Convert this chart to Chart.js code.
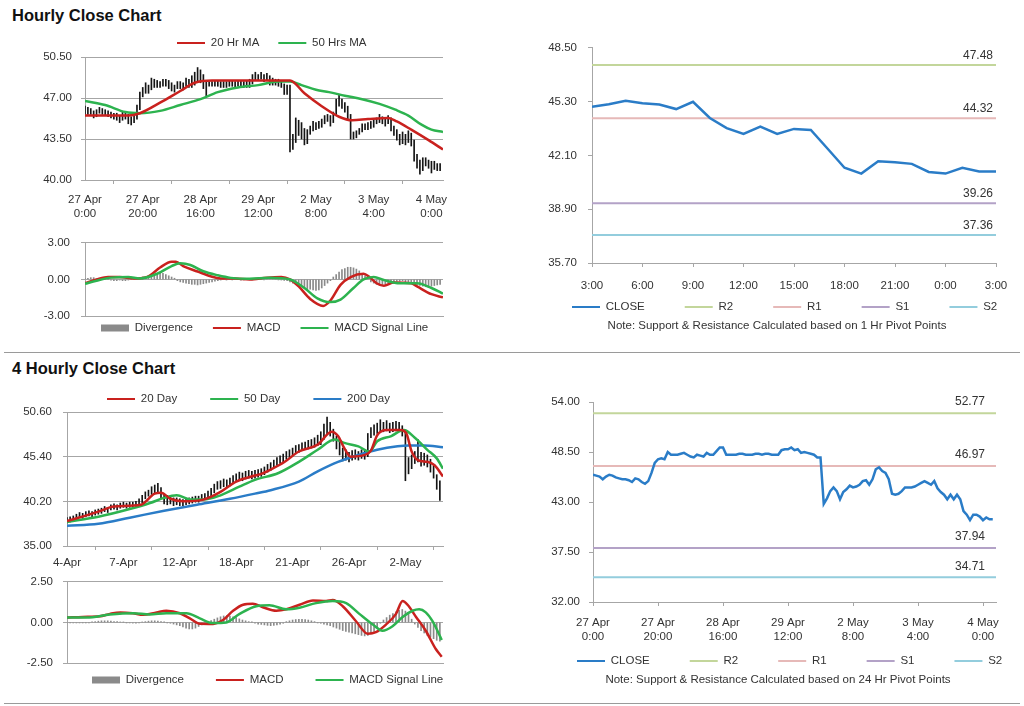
<!DOCTYPE html>
<html>
<head>
<meta charset="utf-8">
<title>Hourly and 4 Hourly Close Charts</title>
<script src="https://cdn.jsdelivr.net/npm/chart.js@4.4.1/dist/chart.umd.min.js"></script>
<style>
  body { margin: 0; background: #fff; font-family: 'Liberation Sans', Arial, sans-serif; }
  #page { position: relative; width: 1024px; height: 706px; overflow: hidden; }
  .panel { position: absolute; }
  .heading { position: absolute; left: 12px; font-size: 16.5px; font-weight: bold; color: #111; }
  .note { position: absolute; width: 520px; text-align: center; font-size: 11.5px; color: #333; }
  .rule { position: absolute; left: 4px; width: 1016px; height: 1px; background: #9a9a9a; }
</style>
</head>
<body>
<div id="page">
  <div class="heading" style="top:6px">Hourly Close Chart</div>
  <div class="panel" style="left:0;top:25px;width:480px;height:200px"><canvas id="hourPrice"></canvas></div>
  <div class="panel" style="left:0;top:225px;width:480px;height:115px"><canvas id="hourMacd"></canvas></div>
  <div class="panel" style="left:520px;top:30px;width:504px;height:310px"><canvas id="hourPivot"></canvas></div>
  <div class="note" style="left:517px;top:319px">Note: Support &amp; Resistance Calculated based on 1 Hr Pivot Points</div>
  <div class="rule" style="top:352px"></div>

  <div class="heading" style="top:359px">4 Hourly Close Chart</div>
  <div class="panel" style="left:0;top:380px;width:480px;height:195px"><canvas id="dayPrice"></canvas></div>
  <div class="panel" style="left:0;top:565px;width:480px;height:130px"><canvas id="dayMacd"></canvas></div>
  <div class="panel" style="left:520px;top:385px;width:504px;height:310px"><canvas id="dayPivot"></canvas></div>
  <div class="note" style="left:518px;top:673px">Note: Support &amp; Resistance Calculated based on 24 Hr Pivot Points</div>
  <div class="rule" style="top:703px"></div>
</div>

<script>
// ---- hourly bars, 27 Apr 0:00 -> 4 May ----
const hourTicks = [['27 Apr', '0:00'], ['27 Apr', '20:00'], ['28 Apr', '16:00'], ['29 Apr', '12:00'],
                   ['2 May', '8:00'], ['3 May', '4:00'], ['4 May', '0:00']];

const hourClose = [
  46.0, 45.9, 45.8, 45.5, 45.8, 46.0, 45.9, 45.7, 45.6, 45.5,
  45.5, 45.4, 45.2, 45.6, 45.5, 45.2, 45.0, 45.3, 46.2, 47.3,
  47.7, 47.8, 47.7, 48.5, 48.2, 48.2, 48.2, 48.3, 48.4, 48.2,
  48.0, 47.9, 48.2, 48.1, 48.0, 48.4, 48.2, 48.2, 48.6, 49.0,
  49.0, 48.2, 48.2, 48.2, 48.2, 48.3, 48.3, 48.2, 48.2, 48.2,
  48.3, 48.3, 48.2, 48.3, 48.3, 48.2, 48.2, 48.2, 48.7, 48.8,
  48.8, 49.0, 48.7, 48.8, 48.4, 48.5, 48.4, 48.3, 48.2, 47.9,
  47.9, 42.8, 43.4, 44.2, 44.6, 44.2, 43.3, 44.1, 44.4, 44.8,
  44.6, 44.7, 44.9, 45.3, 45.4, 44.9, 45.5, 46.6, 46.8, 46.4,
  46.2, 45.5, 43.9, 43.8, 43.9, 44.2, 44.6, 44.6, 44.6, 44.7,
  44.9, 45.1, 45.3, 45.1, 44.9, 45.3, 44.5, 44.1, 43.8, 43.3,
  43.8, 43.3, 43.8, 43.3, 42.0, 41.6, 41.0, 41.6, 41.6, 41.4,
  41.0, 41.3, 41.1, 41.1
];
const hourLow = [
  45.6, 45.6, 45.6, 45.3, 45.4, 45.7, 45.6, 45.5, 45.4, 45.3,
  45.2, 45.1, 44.9, 45.1, 45.2, 44.8, 44.7, 44.9, 45.2, 46.0,
  47.1, 47.4, 47.4, 47.7, 47.9, 47.9, 47.9, 48.0, 48.0, 47.8,
  47.6, 47.5, 47.8, 47.8, 47.7, 48.0, 47.9, 47.9, 48.1, 48.4,
  48.3, 47.8, 47.1, 48.0, 48.0, 48.0, 48.0, 47.9, 47.9, 47.9,
  48.0, 48.0, 47.9, 48.0, 48.0, 47.9, 47.9, 47.9, 48.2, 48.5,
  48.5, 48.6, 48.4, 48.5, 48.1, 48.1, 48.1, 48.0, 47.9, 47.3,
  47.3, 42.4, 42.6, 43.2, 43.8, 43.5, 43.0, 43.1, 43.9, 44.2,
  44.3, 44.4, 44.5, 44.8, 45.0, 44.6, 44.9, 45.5, 46.3, 46.1,
  45.8, 45.2, 43.5, 43.5, 43.6, 43.9, 44.1, 44.3, 44.3, 44.4,
  44.5, 44.8, 44.9, 44.8, 44.6, 44.8, 44.2, 43.8, 43.4, 43.0,
  43.1, 43.0, 43.2, 42.9, 41.6, 41.0, 40.5, 40.8, 41.2, 41.0,
  40.6, 40.9, 40.8, 40.8
];
const hourHigh = [
  46.3, 46.2, 46.1, 45.9, 46.0, 46.2, 46.1, 46.0, 45.9, 45.8,
  45.7, 45.7, 45.5, 45.8, 45.8, 45.6, 45.4, 45.5, 46.4, 47.5,
  47.9, 48.3, 48.1, 48.7, 48.6, 48.5, 48.4, 48.6, 48.6, 48.5,
  48.3, 48.1, 48.4, 48.4, 48.3, 48.7, 48.6, 48.9, 49.2, 49.6,
  49.4, 49.0, 48.4, 48.4, 48.4, 48.5, 48.5, 48.4, 48.4, 48.4,
  48.5, 48.5, 48.4, 48.5, 48.5, 48.4, 48.5, 48.6, 49.0, 49.2,
  49.0, 49.2, 49.0, 49.1, 48.9, 48.7, 48.6, 48.6, 48.5, 48.2,
  48.1, 48.1, 43.9, 45.3, 45.1, 44.9, 44.4, 44.3, 44.6, 45.0,
  44.9, 45.0, 45.2, 45.5, 45.6, 45.5, 45.8, 46.9, 47.3, 46.9,
  46.6, 46.3, 45.6, 44.1, 44.2, 44.4, 44.8, 44.8, 44.9, 45.0,
  45.1, 45.3, 45.6, 45.4, 45.3, 45.5, 45.3, 44.6, 44.3, 43.9,
  44.1, 43.9, 44.2, 44.0, 43.4, 42.2, 41.7, 41.9, 41.9, 41.7,
  41.6, 41.6, 41.4, 41.4
];

const ma20HourAt = [0, 15, 19, 26, 33, 38, 44, 71, 76, 82, 88, 92.5, 98, 105, 108, 113, 119, 124];
const ma20Hour   = [45.5, 45.5, 45.7, 46.6, 47.6, 48.3, 48.5, 48.5, 47.4, 46.3, 45.4, 45.1, 45.2, 45.3, 45.0, 44.3, 43.4, 42.6];
const ma50HourAt = [0, 7, 14, 19, 26, 33, 40, 46, 53, 60, 67, 71, 75, 80, 84.5, 90, 96, 102, 107.5, 112, 116.7, 120, 124];
const ma50Hour   = [46.75, 46.4, 45.8, 45.7, 45.9, 46.4, 46.9, 47.5, 47.9, 48.1, 48.4, 48.4, 48.1, 47.7, 47.5, 47.2, 46.9, 46.5, 46.0, 45.5, 44.7, 44.3, 44.1];

const macdHourAt = [0, 4, 8, 12, 17, 22, 26, 30, 31.5, 34, 39, 43.5, 47, 52, 57, 63, 68, 71, 74, 78,
                    82.5, 85, 88.5, 92, 96.5, 98.5, 101, 103.5, 107, 113, 115, 120, 124];
const macdHour   = [-0.3, 0, 0.2, 0.2, 0.08, 0.26, 0.98, 1.45, 1.45, 1.1, 0.65, 0.26, 0.08, 0.08, 0, 0.15, 0.2, 0, -0.57, -1.6,
                    -2.17, -1.73, -0.44, 0.2, 0.47, 0.2, -0.31, -0.52, -0.26, -0.31, -0.57, -1.21, -1.47];
const signalHourAt = [0, 4, 9, 15, 19, 25, 30, 33, 36.5, 41, 46, 50.5, 57, 64, 71, 76, 80.5, 85, 88.5, 93,
                      96.5, 100, 103.5, 109, 115, 120, 124];
const signalHour   = [-0.36, -0.1, 0.15, 0.2, 0.08, 0.47, 1.1, 1.32, 1.19, 0.67, 0.34, 0.13, 0.05, 0.13, 0, -0.7, -1.55, -1.86, -1.65, -0.7,
                      0, 0.2, -0.05, -0.31, -0.31, -0.7, -1.16];
const divHour = [
  0.1, 0.1, 0.15, 0.15, 0.05, 0.05, 0.05, 0.02, 0, -0.05,
  -0.1, -0.1, -0.05, -0.1, -0.1, -0.05, 0, 0.05, 0.1, 0.15,
  0.2, 0.25, 0.3, 0.35, 0.4, 0.5, 0.55, 0.5, 0.4, 0.3,
  0.2, 0.1, -0.1, -0.2, -0.25, -0.3, -0.35, -0.4, -0.4, -0.45,
  -0.4, -0.35, -0.3, -0.25, -0.2, -0.15, -0.1, -0.05, 0.05, -0.05,
  0.03, -0.03, 0.05, 0.03, -0.05, -0.03, 0.03, 0.05, -0.03, 0.03,
  0.05, 0.03, -0.03, 0.05, 0.08, 0.05, 0.03, -0.03, -0.05, -0.08,
  -0.1, -0.2, -0.3, -0.4, -0.5, -0.6, -0.7, -0.75, -0.8, -0.85,
  -0.9, -0.85, -0.7, -0.5, -0.3, -0.1, 0.2, 0.4, 0.6, 0.8,
  0.9, 1.0, 1.0, 0.95, 0.85, 0.7, 0.5, 0.3, 0.1, -0.2,
  -0.3, -0.4, -0.45, -0.4, -0.35, -0.3, -0.25, -0.2, -0.15, -0.15,
  -0.1, -0.2, -0.3, -0.35, -0.4, -0.45, -0.5, -0.55, -0.6, -0.6,
  -0.55, -0.5, -0.45, -0.4
];

// ---- last day, hourly close 3:00 -> 3:00 ----
const clockTicks = ['3:00', '6:00', '9:00', '12:00', '15:00', '18:00', '21:00', '0:00', '3:00'];
const closeLastDay = [44.99, 45.15, 45.35, 45.21, 45.13, 44.86, 45.29, 44.33, 43.73, 43.38, 43.81, 43.38, 43.68,
                      43.62, 42.5, 41.37, 41.02, 41.75, 41.7, 41.6, 41.12, 41.02, 41.37, 41.15, 41.15];

const pivotNames = ['R2', 'R1', 'S1', 'S2'];
const pivots1Hr  = [47.48, 44.32, 39.26, 37.36];
const pivots24Hr = [52.77, 46.97, 37.94, 34.71];

// ---- 4 hourly bars, 4 Apr -> 4 May ----
const dayTicks = ['4-Apr', '7-Apr', '12-Apr', '18-Apr', '21-Apr', '26-Apr', '2-May'];
const dayLow = [
  37.7, 37.8, 38.0, 38.1, 38.3, 38.2, 38.4, 38.5, 38.4, 38.6,
  38.7, 38.8, 39.0, 38.9, 39.2, 39.3, 39.2, 39.4, 39.5, 39.4,
  39.5, 39.5, 39.6, 39.7, 40.0, 40.5, 40.8, 41.0, 41.2, 41.3,
  40.5, 39.9, 39.8, 39.9, 39.7, 39.8, 39.7, 39.7, 39.8, 39.9,
  40.0, 40.1, 40.1, 40.3, 40.4, 40.6, 40.8, 41.2, 41.6, 41.7,
  41.9, 41.8, 42.0, 42.3, 42.5, 42.7, 42.6, 42.8, 42.9, 42.8,
  42.9, 43.0, 43.1, 43.3, 43.6, 43.8, 44.1, 44.4, 44.6, 44.8,
  45.1, 45.3, 45.5, 45.8, 45.9, 46.1, 46.2, 46.3, 46.4, 46.5,
  46.7, 46.8, 47.4, 48.0, 47.8, 47.2, 46.3, 45.6, 44.9, 45.0,
  44.8, 45.0, 45.1, 45.0, 45.2, 45.1, 45.4, 47.6, 47.9, 48.1,
  48.3, 48.3, 48.4, 48.2, 48.3, 48.4, 48.3, 47.8, 42.6, 43.4,
  44.0, 44.6, 44.8, 44.3, 44.4, 44.2, 43.6, 42.9, 41.6, 40.3
];
const dayHigh = [
  38.3, 38.4, 38.5, 38.7, 38.9, 38.8, 39.0, 39.1, 39.0, 39.2,
  39.3, 39.4, 39.6, 39.5, 39.8, 39.9, 39.8, 40.0, 40.1, 40.0,
  40.1, 40.1, 40.2, 40.5, 40.9, 41.3, 41.5, 41.9, 42.1, 42.3,
  41.8, 41.0, 40.9, 40.8, 40.6, 40.6, 40.5, 40.4, 40.5, 40.6,
  40.7, 40.8, 40.8, 41.0, 41.1, 41.4, 41.7, 42.2, 42.5, 42.6,
  42.8, 42.7, 42.9, 43.2, 43.4, 43.6, 43.5, 43.7, 43.8, 43.7,
  43.8, 43.9, 44.0, 44.2, 44.5, 44.7, 45.0, 45.3, 45.5, 45.7,
  46.0, 46.2, 46.4, 46.7, 46.8, 47.0, 47.1, 47.3, 47.4, 47.6,
  47.9, 48.3, 49.2, 50.0, 49.4, 48.6, 47.8, 47.2, 46.4, 46.2,
  45.9, 46.1, 46.2, 46.0, 46.2, 46.1, 48.1, 48.8, 49.1, 49.3,
  49.7, 49.4, 49.6, 49.3, 49.4, 49.5, 49.4, 49.0, 48.5, 45.3,
  45.6, 46.0, 47.4, 45.9, 45.8, 45.6, 45.1, 44.3, 43.3, 42.6
];

const ma20DayAt = [0, 10, 15, 23.5, 28, 30, 33, 37, 43.5, 49, 54, 60, 62, 65, 69.5, 74, 80, 84.5, 86.5, 88.5,
                   90.5, 95, 97, 99, 102, 106.5, 108.3, 110, 112, 115, 117.3, 120];
const ma20Day   = [37.9, 39.0, 39.6, 39.8, 41.1, 41.2, 40.5, 40.2, 40.4, 41.3, 42.5, 43.2, 43.4, 43.9, 44.8, 46.0, 46.8, 48.3, 47.8, 46.4,
                   45.4, 45.6, 46.1, 47.9, 48.5, 48.5, 48.1, 46.0, 45.0, 44.8, 44.4, 43.1];
const ma50DayAt = [0, 10, 20, 26.5, 31, 35, 39.5, 43.5, 49, 55, 60, 67.5, 74, 80, 85.5, 88.5, 93, 96.5, 99, 103.5,
                   107.5, 111, 115, 118, 120];
const ma50Day   = [37.8, 38.4, 39.3, 40.0, 40.6, 40.9, 40.4, 40.4, 40.9, 41.9, 42.7, 43.5, 44.8, 46.2, 47.4, 47.0, 46.6, 46.0, 47.2, 47.8,
                   48.5, 47.6, 46.2, 45.2, 44.0];
const ma200DayAt = [0, 10, 20, 31, 41.5, 52, 60, 65, 74, 80, 86.5, 93, 99, 105.5, 109, 114, 120];
const ma200Day   = [37.35, 37.6, 38.3, 39.1, 39.8, 40.5, 41.1, 41.5, 42.5, 43.7, 44.8, 45.6, 46.2, 46.6, 46.7, 46.7, 46.5];

const macdDayAt = [0, 5, 10.5, 13.7, 17, 21, 24.3, 28.6, 31.7, 36, 39.2, 42.4, 46.6, 49.8, 53, 56.2, 59.3, 62.5, 66.8, 70,
                   74.2, 78.5, 82.7, 84.8, 88, 92.3, 96, 98.6, 101.8, 105, 107.1, 108.7, 111.4, 114.5, 117.7, 119.6];
const macdDay   = [0.3, 0.34, 0.38, 0.53, 0.62, 0.57, 0.47, 0.62, 0.72, 0.57, 0.25, -0.08, -0.09, 0.15, 0.72, 1.09, 1.15, 0.94, 0.72, 0.81,
                   1.09, 1.36, 1.32, 1.38, 1.0, 0.06, -0.7, -0.6, -0.13, 0.53, 1.32, 1.09, 0.34, -0.51, -1.64, -2.11];
const signalDayAt = [0, 6.3, 13.7, 21.1, 26.4, 31.7, 38.1, 42.4, 46.6, 50.8, 55.1, 60.4, 64.6, 70, 74.2, 79.5, 84.8, 89.1, 93.3, 97.6,
                     100.7, 103.9, 107.1, 110.3, 112.4, 114.5, 116.7, 119.6];
const signalDay   = [0.3, 0.3, 0.49, 0.57, 0.49, 0.57, 0.57, 0.25, -0.04, 0, 0.53, 1.0, 1.06, 0.81, 0.91, 1.19, 1.32, 1.19, 0.53, -0.13,
                     -0.51, -0.23, 0.34, 0.72, 0.81, 0.62, 0.06, -1.08];
const divDay = [
  -0.03, -0.03, -0.03, -0.03, -0.03, -0.02, -0.02, -0.02, 0.03, 0.05,
  0.08, 0.1, 0.1, 0.1, 0.08, 0.06, 0.05, 0.03, 0.02, -0.02,
  -0.03, -0.04, -0.05, -0.03, 0.03, 0.05, 0.08, 0.1, 0.1, 0.08,
  0.05, 0.02, -0.02, -0.05, -0.1, -0.15, -0.2, -0.28, -0.35, -0.4,
  -0.4, -0.35, -0.25, -0.15, -0.05, 0.05, 0.12, 0.2, 0.28, 0.35,
  0.4, 0.42, 0.4, 0.35, 0.3, 0.22, 0.15, 0.1, 0.05, 0.02,
  -0.05, -0.1, -0.12, -0.15, -0.18, -0.2, -0.18, -0.15, -0.1, -0.05,
  0.05, 0.1, 0.15, 0.18, 0.2, 0.2, 0.18, 0.15, 0.1, 0.05,
  -0.02, -0.05, -0.1, -0.15, -0.2, -0.28, -0.35, -0.42, -0.5, -0.55,
  -0.6, -0.65, -0.7, -0.75, -0.8, -0.83, -0.8, -0.7, -0.55, -0.3,
  -0.05, 0.15, 0.3, 0.45, 0.55, 0.65, 0.75, 0.8, 0.7, 0.5,
  0.2, -0.1, -0.3, -0.5, -0.65, -0.8, -0.9, -1.0, -1.1, -1.15
];

// ---- styling ----
Chart.defaults.font.family = "'Liberation Sans', Arial, sans-serif";
Chart.defaults.font.size = 11.5;
Chart.defaults.color = '#333';
Chart.defaults.animation = false;
Chart.defaults.plugins.tooltip.enabled = false;

const GRID = '#a6a6a6';
const RED = '#c9211e';
const GREEN = '#2db34f';
const BLUE = '#2a7cc7';
const BAR_GREY = '#8a8a8a';
const PIVOT_COLORS = ['#c3d69b', '#e6b9b8', '#b3a2c7', '#93cddd'];
const LEGEND_FONT = 11.5;

function pts(xs, ys) { return xs.map((x, k) => ({ x: x, y: ys[k] })); }
function series(vals) { return vals.map((v, i) => ({ x: i, y: v })); }
function ranges(lo, hi) { return lo.map((v, i) => ({ x: i, y: [v, hi[i]] })); }

// puts the legend row where the original had it, without it taking layout room
const legendSpot = {
  id: 'legendSpot',
  afterLayout(chart, args, opts) {
    const lg = chart.legend;
    if (!lg || opts.x === undefined) return;
    const pad = lg.options.labels.padding;
    lg.left = opts.x - pad;
    lg.right = lg.left + 1000;
    lg.top = opts.y - pad - LEGEND_FONT / 2;
    lg.bottom = lg.top + pad + LEGEND_FONT + 10;
    lg.width = lg.right - lg.left;
    lg.height = lg.bottom - lg.top;
  }
};

// value labels above the support / resistance lines
const pivotTags = {
  id: 'pivotTags',
  afterDatasetsDraw(chart, args, opts) {
    const { ctx, chartArea, scales } = chart;
    ctx.save();
    ctx.font = "12px 'Liberation Sans', Arial, sans-serif";
    ctx.fillStyle = '#333';
    ctx.textAlign = 'right';
    ctx.textBaseline = 'middle';
    chart.data.datasets.forEach(ds => {
      if (!ds.pivot) return;
      const v = ds.data[0].y;
      ctx.fillText(v.toFixed(2), chartArea.right - opts.inset, scales.y.getPixelForValue(v) - opts.lift);
    });
    ctx.restore();
  }
};

function xAxis(max, step, labels, height, pad) {
  return {
    type: 'linear', min: 0, max: max, offset: false,
    afterFit: s => { s.height = height; },
    grid: { display: !!labels, drawOnChartArea: false, tickLength: 4, color: GRID },
    border: { color: GRID },
    ticks: {
      display: !!labels, stepSize: step, includeBounds: false, autoSkip: false, maxRotation: 0, padding: pad || 0,
      callback: v => labels ? labels[Math.round(v / step)] : ''
    }
  };
}

function yAxis(min, max, step, width, pad, gridOn) {
  return {
    min: min, max: max,
    afterFit: s => { s.width = width; },
    grid: { color: GRID, tickLength: 4, drawOnChartArea: gridOn },
    border: { color: GRID },
    ticks: { stepSize: step, padding: pad, callback: v => v.toFixed(2) }
  };
}

function legendOpts(position, gap) {
  return {
    position: position, align: 'start', maxHeight: 1,
    labels: {
      usePointStyle: true, pointStyleWidth: 28, boxHeight: 7, padding: gap,
      color: '#333', font: { size: LEGEND_FONT },
      filter: item => item.text !== 'Price',
      sort: (a, b) => a.datasetIndex - b.datasetIndex
    }
  };
}

function maLine(label, data, color, order) {
  return {
    label: label, data: data, borderColor: color, backgroundColor: color,
    borderWidth: 2.5, pointBorderWidth: 2.2, pointRadius: 0, pointStyle: 'line',
    cubicInterpolationMode: 'monotone', order: order
  };
}

function candles(lo, hi) {
  return { type: 'bar', label: 'Price', data: ranges(lo, hi), backgroundColor: '#151515', barThickness: 1, order: 5 };
}

function divergence(vals) {
  return { type: 'bar', label: 'Divergence', data: series(vals), backgroundColor: BAR_GREY, borderWidth: 0,
           barThickness: 1, pointStyle: 'rect', order: 5 };
}

function pivotLines(values, last) {
  return values.map((v, k) => ({
    label: pivotNames[k], data: [{ x: 0, y: v }, { x: last, y: v }], pivot: true,
    borderColor: PIVOT_COLORS[k], backgroundColor: PIVOT_COLORS[k],
    borderWidth: 2, pointBorderWidth: 2, pointRadius: 0, pointStyle: 'line', order: 2
  }));
}

function closeLine(data) {
  return { label: 'CLOSE', data: data, borderColor: BLUE, backgroundColor: BLUE, borderWidth: 2.5,
           pointBorderWidth: 2.2, pointRadius: 0, pointStyle: 'line', order: 1 };
}

// hourly candles with 20 / 50 hour averages
new Chart(document.getElementById('hourPrice'), {
  type: 'line',
  data: { datasets: [
    maLine('20 Hr MA', pts(ma20HourAt, ma20Hour), RED, 1),
    maLine('50 Hrs MA', pts(ma50HourAt, ma50Hour), GREEN, 2),
    candles(hourLow, hourHigh)
  ]},
  options: {
    responsive: true, maintainAspectRatio: false,
    layout: { padding: { top: 31, right: 37, bottom: 5, left: 0 } },
    scales: { x: xAxis(124, 20, hourTicks, 40, 9), y: yAxis(40, 50.5, 3.5, 85, 9, true) },
    plugins: { legend: legendOpts('top', 19), legendSpot: { x: 177, y: 18 } }
  },
  plugins: [legendSpot]
});

// hourly MACD
new Chart(document.getElementById('hourMacd'), {
  type: 'line',
  data: { datasets: [
    divergence(divHour),
    maLine('MACD', pts(macdHourAt, macdHour), RED, 2),
    maLine('MACD Signal Line', pts(signalHourAt, signalHour), GREEN, 1)
  ]},
  options: {
    responsive: true, maintainAspectRatio: false,
    layout: { padding: { top: 14, right: 37, bottom: 22, left: 0 } },
    scales: { x: xAxis(124, 20, null, 1), y: yAxis(-3, 3, 3, 85, 11, true) },
    plugins: { legend: legendOpts('bottom', 20), legendSpot: { x: 101, y: 103 } }
  },
  plugins: [legendSpot]
});

// last day close with 1 Hr pivots
new Chart(document.getElementById('hourPivot'), {
  type: 'line',
  data: { datasets: [closeLine(series(closeLastDay))].concat(pivotLines(pivots1Hr, 24)) },
  options: {
    responsive: true, maintainAspectRatio: false,
    layout: { padding: { top: 17, right: 28, bottom: 46, left: 0 } },
    scales: { x: xAxis(24, 3, clockTicks, 30, 12), y: yAxis(35.7, 48.5, 3.2, 72, 11, false) },
    plugins: { legend: legendOpts('bottom', 40), legendSpot: { x: 52, y: 277 }, pivotTags: { inset: 3, lift: 9 } }
  },
  plugins: [legendSpot, pivotTags]
});

// 4 hourly candles with 20 / 50 / 200 day averages
new Chart(document.getElementById('dayPrice'), {
  type: 'line',
  data: { datasets: [
    maLine('20 Day', pts(ma20DayAt, ma20Day), RED, 1),
    maLine('50 Day', pts(ma50DayAt, ma50Day), GREEN, 2),
    maLine('200 Day', pts(ma200DayAt, ma200Day), BLUE, 3),
    candles(dayLow, dayHigh)
  ]},
  options: {
    responsive: true, maintainAspectRatio: false,
    layout: { padding: { top: 31, right: 37, bottom: 7, left: 0 } },
    scales: { x: xAxis(120, 18, dayTicks, 22, 6), y: yAxis(35, 50.6, 5.2, 67, 11, true) },
    plugins: { legend: legendOpts('top', 33), legendSpot: { x: 107, y: 19 } }
  },
  plugins: [legendSpot]
});

// 4 hourly MACD
new Chart(document.getElementById('dayMacd'), {
  type: 'line',
  data: { datasets: [
    divergence(divDay),
    maLine('MACD', pts(macdDayAt, macdDay), RED, 2),
    maLine('MACD Signal Line', pts(signalDayAt, signalDay), GREEN, 1)
  ]},
  options: {
    responsive: true, maintainAspectRatio: false,
    layout: { padding: { top: 10, right: 37, bottom: 30, left: 0 } },
    scales: { x: xAxis(120, 18, null, 1), y: yAxis(-2.5, 2.5, 2.5, 67, 10, true) },
    plugins: { legend: legendOpts('bottom', 32), legendSpot: { x: 92, y: 115 } }
  },
  plugins: [legendSpot]
});

// hourly close with 24 Hr pivots
new Chart(document.getElementById('dayPivot'), {
  type: 'line',
  data: { datasets: [closeLine(series(hourClose))].concat(pivotLines(pivots24Hr, 124)) },
  options: {
    responsive: true, maintainAspectRatio: false,
    layout: { padding: { top: 17, right: 28, bottom: 52, left: 0 } },
    scales: { x: xAxis(124, 20, hourTicks, 40, 10), y: yAxis(32, 54, 5.5, 73, 9, false) },
    plugins: { legend: legendOpts('bottom', 40), legendSpot: { x: 57, y: 276 }, pivotTags: { inset: 11, lift: 11 } }
  },
  plugins: [legendSpot, pivotTags]
});
</script>
</body>
</html>
